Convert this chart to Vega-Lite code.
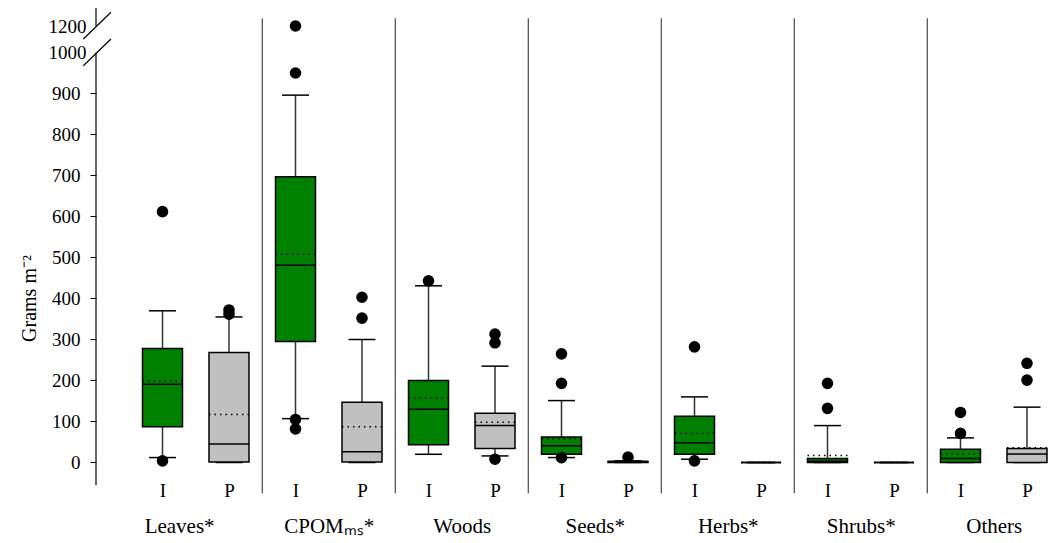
{
  "$schema": "https://vega.github.io/schema/vega-lite/v6.json",
  "autosize": "none",
  "width": 954,
  "height": 477,
  "padding": {"left": 96, "top": 8, "right": 0, "bottom": 58},
  "config": {
    "view": {"stroke": null},
    "font": "Liberation Serif",
    "axis": {"grid": false, "labelFont": "Liberation Serif", "titleFont": "Liberation Serif", "labelColor": "black", "titleColor": "black", "labelFlush": false, "labelOverlap": false, "labelBound": false}
  },
  "datasets": {
    "boxes": [
      {"cat": "Leaves", "grp": "I", "pos": 0, "lo": 12, "q1": 87, "med": 191, "mean": 199, "q3": 278, "hi": 370},
      {"cat": "Leaves", "grp": "P", "pos": 1, "lo": 0, "q1": 1, "med": 45, "mean": 117, "q3": 268, "hi": 355},
      {"cat": "CPOM", "grp": "I", "pos": 2, "lo": 107, "q1": 295, "med": 481, "mean": 508, "q3": 697, "hi": 896},
      {"cat": "CPOM", "grp": "P", "pos": 3, "lo": 0, "q1": 1, "med": 26, "mean": 87, "q3": 147, "hi": 300},
      {"cat": "Woods", "grp": "I", "pos": 4, "lo": 20, "q1": 43, "med": 130, "mean": 157, "q3": 200, "hi": 431},
      {"cat": "Woods", "grp": "P", "pos": 5, "lo": 16, "q1": 34, "med": 90, "mean": 98, "q3": 120, "hi": 235},
      {"cat": "Seeds", "grp": "I", "pos": 6, "lo": 12, "q1": 20, "med": 41, "mean": 57, "q3": 62, "hi": 151},
      {"cat": "Seeds", "grp": "P", "pos": 7, "lo": 0, "q1": 0, "med": 1, "mean": 2, "q3": 3, "hi": 4},
      {"cat": "Herbs", "grp": "I", "pos": 8, "lo": 8, "q1": 20, "med": 48, "mean": 71, "q3": 113, "hi": 160},
      {"cat": "Herbs", "grp": "P", "pos": 9, "lo": 0, "q1": 0, "med": 0, "mean": 0, "q3": 0, "hi": 0},
      {"cat": "Shrubs", "grp": "I", "pos": 10, "lo": 0, "q1": 0, "med": 3, "mean": 17, "q3": 10, "hi": 90},
      {"cat": "Shrubs", "grp": "P", "pos": 11, "lo": 0, "q1": 0, "med": 0, "mean": 0, "q3": 0, "hi": 0},
      {"cat": "Others", "grp": "I", "pos": 12, "lo": 0, "q1": 0, "med": 10, "mean": 21, "q3": 32, "hi": 60},
      {"cat": "Others", "grp": "P", "pos": 13, "lo": 0, "q1": 0, "med": 21, "mean": 36, "q3": 34, "hi": 135}
    ],
    "outliers": [
      {"pos": 0, "v": 612}, {"pos": 0, "v": 4},
      {"pos": 1, "v": 372}, {"pos": 1, "v": 362},
      {"pos": 2, "v": 1200}, {"pos": 2, "v": 950}, {"pos": 2, "v": 105}, {"pos": 2, "v": 82},
      {"pos": 3, "v": 403}, {"pos": 3, "v": 352},
      {"pos": 4, "v": 443},
      {"pos": 5, "v": 313}, {"pos": 5, "v": 292}, {"pos": 5, "v": 8},
      {"pos": 6, "v": 265}, {"pos": 6, "v": 193}, {"pos": 6, "v": 12},
      {"pos": 7, "v": 13},
      {"pos": 8, "v": 282}, {"pos": 8, "v": 4},
      {"pos": 10, "v": 193}, {"pos": 10, "v": 132},
      {"pos": 12, "v": 122}, {"pos": 12, "v": 71},
      {"pos": 13, "v": 242}, {"pos": 13, "v": 201}
    ],
    "separators": [
      {"x": 1.5, "y": -75, "y2": 1258}, {"x": 3.5, "y": -75, "y2": 1258}, {"x": 5.5, "y": -75, "y2": 1258},
      {"x": 7.5, "y": -75, "y2": 1258}, {"x": 9.5, "y": -75, "y2": 1258}, {"x": 11.5, "y": -75, "y2": 1258}
    ],
    "axisline": [
      {"x": -1, "y": -54.9, "y2": 1000},
      {"x": -1, "y": 1200, "y2": 1335.8}
    ],
    "slashes": [
      {"id": "a", "x": -1.19, "y": 967.8}, {"id": "a", "x": -0.775, "y": 1101.9},
      {"id": "b", "x": -1.19, "y": 1101.9}, {"id": "b", "x": -0.775, "y": 1303.4}
    ]
  },
  "resolve": {"axis": {"x": "independent", "y": "independent"}},
  "layer": [
    {
      "data": {"name": "boxes"},
      "mark": {"type": "rule", "color": "#333", "strokeWidth": 1.5},
      "encoding": {
        "x": {"field": "pos", "type": "quantitative",
          "scale": {"domain": [-1, 13.346], "nice": false, "zero": false},
          "axis": {"orient": "bottom", "values": [0,1,2,3,4,5,6,7,8,9,10,11,12,13], "labelExpr": "datum.value % 2 == 0 ? 'I' : 'P'", "domain": false, "ticks": false, "tickSize": 0, "labelPadding": -4, "labelFontSize": 19, "labelFont": "Liberation Serif", "labelBaseline": "top", "title": null}},
        "y": {"field": "lo", "type": "quantitative",
          "scale": {"domain": [-54.9, 1000, 1200, 1335.8], "range": [477, 44.5, 18, 0], "nice": false, "zero": false},
          "axis": {"orient": "left", "values": [0,100,200,300,400,500,600,700,800,900], "format": "d", "domain": false, "ticks": true, "tickSize": 6, "tickColor": "black", "tickWidth": 1,
            "labelPadding": 10, "labelFontSize": 19, "labelFont": "Liberation Serif", "title": "Grams m⁻²", "titleFont": "Liberation Serif", "titleFontSize": 20, "titleFontWeight": "normal", "titleY": 290, "titlePadding": 12}},
        "y2": {"field": "hi"}
      }
    },
    {
      "data": {"name": "boxes"},
      "mark": {"type": "rule", "color": "black", "strokeWidth": 1.5, "xOffset": -13.5, "x2Offset": 13.5},
      "encoding": {
        "x": {"field": "pos", "type": "quantitative", "scale": {"domain": [-1, 13.346], "nice": false, "zero": false}, "axis": null},
        "x2": {"field": "pos"},
        "y": {"field": "hi", "type": "quantitative", "scale": {"domain": [-54.9, 1000, 1200, 1335.8], "range": [477, 44.5, 18, 0], "nice": false, "zero": false}, "axis": null}
      }
    },
    {
      "data": {"name": "boxes"},
      "mark": {"type": "rule", "color": "black", "strokeWidth": 1.5, "xOffset": -13.5, "x2Offset": 13.5},
      "encoding": {
        "x": {"field": "pos", "type": "quantitative", "scale": {"domain": [-1, 13.346], "nice": false, "zero": false}, "axis": null},
        "x2": {"field": "pos"},
        "y": {"field": "lo", "type": "quantitative", "scale": {"domain": [-54.9, 1000, 1200, 1335.8], "range": [477, 44.5, 18, 0], "nice": false, "zero": false}, "axis": null}
      }
    },
    {
      "data": {"name": "boxes"},
      "mark": {"type": "rect", "stroke": "black", "strokeWidth": 1.5, "xOffset": -20, "x2Offset": 20},
      "encoding": {
        "x": {"field": "pos", "type": "quantitative", "scale": {"domain": [-1, 13.346], "nice": false, "zero": false}, "axis": null},
        "x2": {"field": "pos"},
        "y": {"field": "q1", "type": "quantitative", "scale": {"domain": [-54.9, 1000, 1200, 1335.8], "range": [477, 44.5, 18, 0], "nice": false, "zero": false}, "axis": null},
        "y2": {"field": "q3"},
        "fill": {"field": "grp", "type": "nominal", "scale": {"domain": ["I", "P"], "range": ["#008000", "#c0c0c0"]}, "legend": null}
      }
    },
    {
      "data": {"name": "boxes"},
      "mark": {"type": "rule", "color": "black", "strokeWidth": 1.5, "xOffset": -20, "x2Offset": 20},
      "encoding": {
        "x": {"field": "pos", "type": "quantitative", "scale": {"domain": [-1, 13.346], "nice": false, "zero": false}, "axis": null},
        "x2": {"field": "pos"},
        "y": {"field": "med", "type": "quantitative", "scale": {"domain": [-54.9, 1000, 1200, 1335.8], "range": [477, 44.5, 18, 0], "nice": false, "zero": false}, "axis": null}
      }
    },
    {
      "data": {"name": "boxes"},
      "mark": {"type": "rule", "color": "black", "strokeWidth": 1.5, "strokeDash": [1.5, 4], "xOffset": -20, "x2Offset": 20},
      "encoding": {
        "x": {"field": "pos", "type": "quantitative", "scale": {"domain": [-1, 13.346], "nice": false, "zero": false}, "axis": null},
        "x2": {"field": "pos"},
        "y": {"field": "mean", "type": "quantitative", "scale": {"domain": [-54.9, 1000, 1200, 1335.8], "range": [477, 44.5, 18, 0], "nice": false, "zero": false}, "axis": null}
      }
    },
    {
      "data": {"name": "outliers"},
      "mark": {"type": "point", "shape": "circle", "filled": true, "color": "black", "size": 135, "opacity": 1},
      "encoding": {
        "x": {"field": "pos", "type": "quantitative", "scale": {"domain": [-1, 13.346], "nice": false, "zero": false}, "axis": null},
        "y": {"field": "v", "type": "quantitative", "scale": {"domain": [-54.9, 1000, 1200, 1335.8], "range": [477, 44.5, 18, 0], "nice": false, "zero": false}, "axis": null}
      }
    },
    {
      "data": {"name": "separators"},
      "mark": {"type": "rule", "color": "#222", "strokeWidth": 1},
      "encoding": {
        "x": {"field": "x", "type": "quantitative", "scale": {"domain": [-1, 13.346], "nice": false, "zero": false},
          "axis": {"orient": "bottom", "values": [0.25, 2.5, 4.5, 6.5, 8.5, 10.5, 12.5], "labelExpr": "['Leaves*','CPOMₘₛ*','Woods','Seeds*','Herbs*','Shrubs*','Others'][floor((datum.value + 1) / 2)]", "domain": false, "ticks": false, "tickSize": 0, "labelPadding": 30, "labelFontSize": 21, "labelFont": "Liberation Serif", "labelBaseline": "top", "title": null}},
        "y": {"field": "y", "type": "quantitative", "scale": {"domain": [-54.9, 1000, 1200, 1335.8], "range": [477, 44.5, 18, 0], "nice": false, "zero": false}, "axis": null},
        "y2": {"field": "y2"}
      }
    },
    {
      "data": {"name": "axisline"},
      "mark": {"type": "rule", "color": "black", "strokeWidth": 1.2},
      "encoding": {
        "x": {"field": "x", "type": "quantitative", "scale": {"domain": [-1, 13.346], "nice": false, "zero": false}, "axis": null},
        "y": {"field": "y", "type": "quantitative", "scale": {"domain": [-54.9, 1000, 1200, 1335.8], "range": [477, 44.5, 18, 0], "nice": false, "zero": false},
          "axis": {"orient": "left", "values": [1000, 1200], "format": "d", "domain": false, "ticks": false, "tickSize": 6, "labelPadding": 10, "labelFontSize": 19, "labelFont": "Liberation Serif", "title": null}},
        "y2": {"field": "y2"}
      }
    },
    {
      "data": {"name": "slashes"},
      "mark": {"type": "line", "color": "black", "strokeWidth": 1.2},
      "encoding": {
        "x": {"field": "x", "type": "quantitative", "scale": {"domain": [-1, 13.346], "nice": false, "zero": false}, "axis": null},
        "y": {"field": "y", "type": "quantitative", "scale": {"domain": [-54.9, 1000, 1200, 1335.8], "range": [477, 44.5, 18, 0], "nice": false, "zero": false}, "axis": null},
        "detail": {"field": "id", "type": "nominal"}
      }
    }
  ]
}
